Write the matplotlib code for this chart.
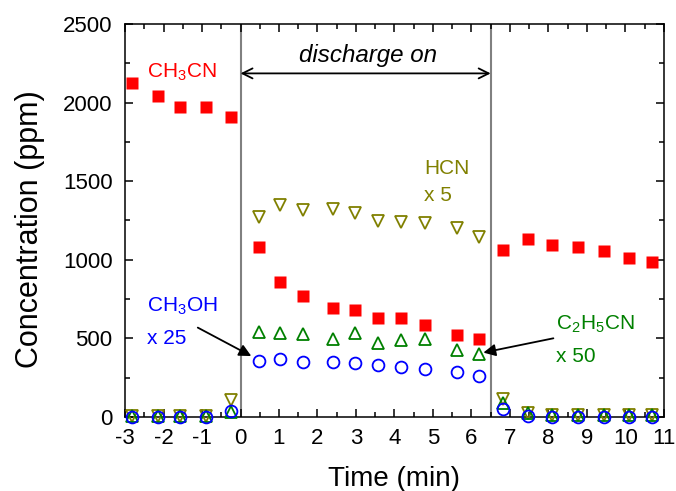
import matplotlib
matplotlib.use("Agg")
import matplotlib.pyplot as plt
import numpy as np

plt.rcParams["font.family"] = ["Liberation Sans", "DejaVu Sans"]
plt.rcParams["mathtext.fontset"] = "custom"
plt.rcParams["mathtext.rm"] = "Liberation Sans"
plt.rcParams["axes.unicode_minus"] = False

# sampling times (min), shared by all species
time = [-2.82, -2.15, -1.56, -0.89, -0.24, 0.47, 1.02, 1.62, 2.40, 2.97, 3.58,
        4.16, 4.79, 5.63, 6.20, 6.83, 7.47, 8.10, 8.78, 9.44, 10.10, 10.69]

ch3cn = [2126, 2041, 1969, 1969, 1909, 1079, 856, 770, 690, 679, 630,
         628, 585, 521, 498, 1064, 1132, 1096, 1083, 1058, 1011, 983]
hcn_x5 = [5, 5, 5, 5, 110, 1271, 1351, 1319, 1324, 1296, 1249,
          1239, 1234, 1202, 1143, 112, 22, 10, 10, 10, 10, 10]
c2h5cn_x50 = [5, 5, 5, 5, 30, 543, 532, 526, 494, 536, 468,
              489, 498, 428, 402, 88, 22, 10, 10, 10, 10, 10]
ch3oh_x25 = [0, 0, 0, 0, 38, 355, 366, 349, 351, 340, 330,
             319, 306, 285, 259, 50, 5, 2, 0, 0, 0, 0]

discharge_start = 0.0
discharge_end = 6.5

fig = plt.figure(figsize=(6.76, 4.91), dpi=100)
ax = fig.add_axes([0.185, 0.151, 0.797, 0.800])

ax.axvline(discharge_start, color="#808080", lw=1.5, zorder=1)
ax.axvline(discharge_end, color="#808080", lw=1.5, zorder=1)

ax.plot(time, ch3cn, "s", color="#ff0000", ms=8, mec="none", clip_on=False, zorder=3)
ax.plot(time, hcn_x5, "v", color="#808000", ms=9, mfc="none", mew=1.3, clip_on=False, zorder=3)
ax.plot(time, c2h5cn_x50, "^", color="#008000", ms=9, mfc="none", mew=1.3, clip_on=False, zorder=3)
ax.plot(time, ch3oh_x25, "o", color="#0000ff", ms=8.5, mfc="none", mew=1.3, clip_on=False, zorder=4)

ax.set_xlim(-3, 11)
ax.set_ylim(0, 2500)
ax.set_xticks(np.arange(-3, 12, 1))
ax.set_xticks(np.arange(-3, 11.01, 0.5), minor=True)
ax.set_yticks(np.arange(0, 2501, 500))
ax.set_yticks(np.arange(0, 2501, 250), minor=True)
ax.tick_params(which="both", direction="in", top=True, right=True, width=1.1, labelsize=16)
ax.tick_params(which="major", length=6)
ax.tick_params(which="minor", length=3.5)
ax.tick_params(axis="x", pad=8)
ax.tick_params(axis="y", pad=9)
for s in ax.spines.values():
    s.set_linewidth(1.1)

ax.set_xlabel("Time (min)", fontsize=20, labelpad=12)
ax.set_ylabel("Concentration (ppm)", fontsize=22, labelpad=13)
ax.yaxis.label.set_y(0.477)

fs = 15
ax.text(-2.44, 2158, r"CH$_\mathregular{3}$CN", color="#ff0000", fontsize=fs, va="baseline")
ax.text(3.30, 2260, "discharge on", style="italic", fontsize=17.4, ha="center", va="baseline")
ax.annotate("", xy=(discharge_start, 2186), xytext=(discharge_end, 2186),
            arrowprops=dict(arrowstyle="<->", color="black", lw=1.3, mutation_scale=18,
                            shrinkA=0, shrinkB=0))

ax.text(4.77, 1547, "HCN", color="#808000", fontsize=fs, va="baseline")
ax.text(4.77, 1377, "x 5", color="#808000", fontsize=fs, va="baseline")

ax.text(-2.44, 674, r"CH$_\mathregular{3}$OH", color="#0000ff", fontsize=fs, va="baseline")
ax.text(-2.44, 466, "x 25", color="#0000ff", fontsize=fs, va="baseline")
ax.annotate("", xy=(0.28, 387), xytext=(-1.11, 568),
            arrowprops=dict(arrowstyle="-|>", color="black", lw=1.3, mutation_scale=18,
                            shrinkA=0, shrinkB=0))

ax.text(8.20, 557, r"C$_\mathregular{2}$H$_\mathregular{5}$CN", color="#008000", fontsize=fs, va="baseline")
ax.text(8.20, 349, "x 50", color="#008000", fontsize=fs, va="baseline")
ax.annotate("", xy=(6.31, 409), xytext=(8.13, 500),
            arrowprops=dict(arrowstyle="-|>", color="black", lw=1.3, mutation_scale=18,
                            shrinkA=0, shrinkB=0))

fig.savefig("out.png", dpi=100)
